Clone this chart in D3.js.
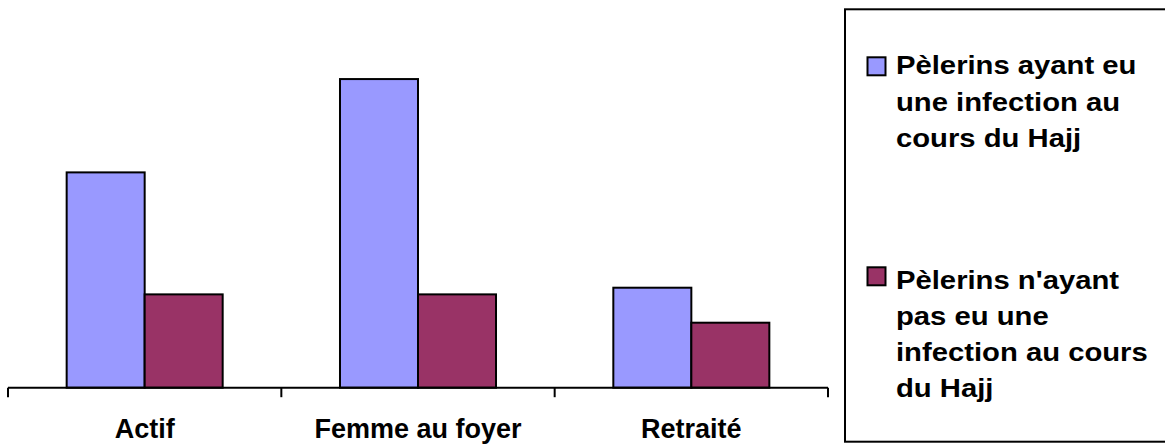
<!DOCTYPE html>
<html>
<head>
<meta charset="utf-8">
<script src="https://cdn.jsdelivr.net/npm/d3@7"></script>
<style>
  html, body { margin: 0; padding: 0; background: #fff; }
  svg { display: block; }
  text { font-family: "Liberation Sans", Arial, sans-serif; font-weight: bold; fill: #000; }
</style>
</head>
<body>
<svg id="chart" width="1165" height="445"></svg>
<script>
const categories = ["Actif", "Femme au foyer", "Retraité"];
const seriesNames = [
  "Pèlerins ayant eu une infection au cours du Hajj",
  "Pèlerins n'ayant pas eu une infection au cours du Hajj"
];
const seriesInfected = [32.3, 46.3, 15.0];
const seriesNotInfected = [14.0, 14.0, 9.75];
const legendLines = [
  ["Pèlerins ayant eu", "une infection au", "cours du Hajj"],
  ["Pèlerins n'ayant", "pas eu une", "infection au cours", "du Hajj"]
];
const colors = ["#9999FF", "#993366"];

const svg = d3.select("#chart");
const baseY = 387.7;

const x0 = d3.scaleBand().domain(categories).range([8, 828]).paddingInner(0).paddingOuter(0);
const x1 = d3.scaleBand().domain([0, 1]).range([0, x0.bandwidth()]).paddingInner(0).paddingOuter(0.752);
const y = d3.scaleLinear().domain([0, 50]).range([baseY, baseY - 333.3]);

const data = categories.map((c, i) => ({ cat: c, values: [seriesInfected[i], seriesNotInfected[i]] }));

const groups = svg.append("g").selectAll("g").data(data).join("g")
  .attr("transform", d => `translate(${x0(d.cat)},0)`);

groups.selectAll("rect").data(d => d.values.map((v, k) => ({ v, k }))).join("rect")
  .attr("x", d => x1(d.k))
  .attr("y", d => y(d.v))
  .attr("width", x1.bandwidth())
  .attr("height", d => y(0) - y(d.v))
  .attr("fill", d => colors[d.k])
  .attr("stroke", "#000")
  .attr("stroke-width", 2);

// axis
const axis = svg.append("g");
axis.append("line")
  .attr("x1", x0.range()[0]).attr("x2", x0.range()[1])
  .attr("y1", baseY).attr("y2", baseY)
  .attr("stroke", "#000").attr("stroke-width", 2);
const tickXs = categories.map(c => x0(c)).concat([x0.range()[1]]);
axis.selectAll("line.tick").data(tickXs).join("line")
  .attr("class", "tick")
  .attr("x1", d => d).attr("x2", d => d)
  .attr("y1", baseY).attr("y2", baseY + 9.5)
  .attr("stroke", "#000").attr("stroke-width", 2);
axis.selectAll("text").data(categories).join("text")
  .attr("x", d => x0(d) + x0.bandwidth() / 2)
  .attr("y", 437.5)
  .attr("text-anchor", "middle")
  .style("font-size", "27px")
  .text(d => d);

// legend
const legend = svg.append("g");
legend.append("rect")
  .attr("x", 845).attr("y", 9.3)
  .attr("width", 340).attr("height", 432.4)
  .attr("fill", "none").attr("stroke", "#000").attr("stroke-width", 2);

const entryTops = [57.3, 267.3];
const entryBase = [74.5, 288.7];
seriesNames.forEach((name, k) => {
  const g = legend.append("g");
  g.append("rect")
    .attr("x", 867.5).attr("y", entryTops[k])
    .attr("width", 18).attr("height", 18)
    .attr("fill", colors[k]).attr("stroke", "#000").attr("stroke-width", 2);
  const t = g.append("text")
    .attr("transform", `translate(896,0) scale(1.17,1)`)
    .style("font-size", "25px");
  legendLines[k].forEach((ln, j) => {
    t.append("tspan").attr("x", 0).attr("y", entryBase[k] + j * 36.2).text(ln);
  });
});
</script>
</body>
</html>
